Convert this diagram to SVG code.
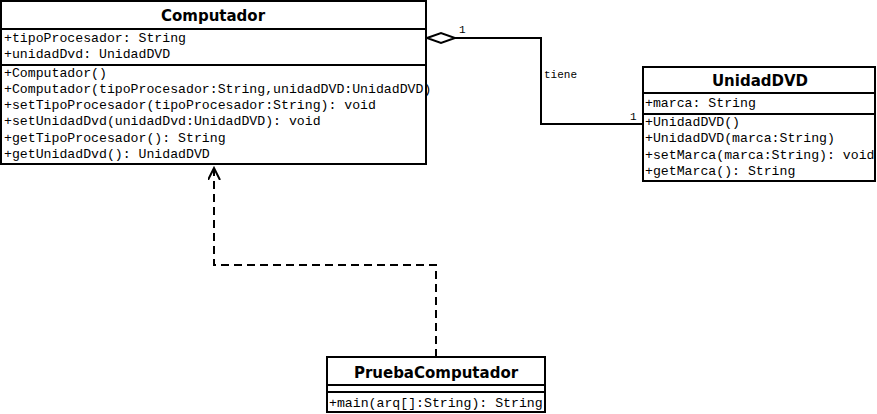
<svg xmlns="http://www.w3.org/2000/svg" width="877" height="414" viewBox="0 0 877 414">
<style>
.box{fill:#fff;stroke:#000;stroke-width:2}
.sep{stroke:#000;stroke-width:2}
.title{font-family:"DejaVu Sans","Liberation Sans",sans-serif;font-weight:bold;font-size:15px;text-anchor:middle;fill:#000}
.mono{font-family:"Liberation Mono","Courier New",monospace;font-size:13.2px;fill:#000}
.lbl{font-family:"Liberation Mono","Courier New",monospace;font-size:11px;fill:#000}
.conn{fill:none;stroke:#000;stroke-width:2}
</style>
<defs>
<marker id="open" markerWidth="14" markerHeight="14" refX="12" refY="6" orient="auto" markerUnits="userSpaceOnUse">
<path d="M0,0 L12,6 L0,12" fill="none" stroke="#000" stroke-width="2"/>
</marker>
</defs>
<rect width="877" height="414" fill="#fff"/>
<g id="connectors">
<path class="conn" d="M455,38 H541 V124 H642"/>
<path d="M427,38 L441,33 L455,38 L441,43 Z" fill="#fff" stroke="#000" stroke-width="2"/>
<text class="lbl" x="459" y="33">1</text>
<text class="lbl" x="630" y="120">1</text>
<text class="lbl" x="544" y="78">tiene</text>
<path class="conn" d="M436,357 V265 H214 V168" stroke-dasharray="8,5" marker-end="url(#open)"/>
</g>
<g id="Computador">
<rect class="box" x="1" y="1" width="425" height="163"/>
<line class="sep" x1="1" y1="29" x2="426" y2="29"/>
<line class="sep" x1="1" y1="65" x2="426" y2="65"/>
<text class="title" x="213" y="21">Computador</text>
<text class="mono" x="4" y="42">+tipoProcesador: String</text>
<text class="mono" x="4" y="58">+unidadDvd: UnidadDVD</text>
<text class="mono" x="4" y="77">+Computador()</text>
<text class="mono" x="4" y="93">+Computador(tipoProcesador:String,unidadDVD:UnidadDVD)</text>
<text class="mono" x="4" y="109">+setTipoProcesador(tipoProcesador:String): void</text>
<text class="mono" x="4" y="125">+setUnidadDvd(unidadDvd:UnidadDVD): void</text>
<text class="mono" x="4" y="142">+getTipoProcesador(): String</text>
<text class="mono" x="4" y="158">+getUnidadDvd(): UnidadDVD</text>
</g>
<g id="UnidadDVD">
<rect class="box" x="643" y="67" width="232" height="114"/>
<line class="sep" x1="643" y1="93" x2="875" y2="93"/>
<line class="sep" x1="643" y1="114" x2="875" y2="114"/>
<text class="title" x="760" y="86">UnidadDVD</text>
<text class="mono" x="645" y="107">+marca: String</text>
<text class="mono" x="645" y="126">+UnidadDVD()</text>
<text class="mono" x="645" y="142">+UnidadDVD(marca:String)</text>
<text class="mono" x="645" y="159">+setMarca(marca:String): void</text>
<text class="mono" x="645" y="175">+getMarca(): String</text>
</g>
<g id="PruebaComputador">
<rect class="box" x="327" y="357" width="218" height="55"/>
<line class="sep" x1="327" y1="385" x2="545" y2="385"/>
<line class="sep" x1="327" y1="392" x2="545" y2="392"/>
<text class="title" x="436" y="378">PruebaComputador</text>
<text class="mono" x="329" y="407">+main(arq[]:String): String</text>
</g>
</svg>
